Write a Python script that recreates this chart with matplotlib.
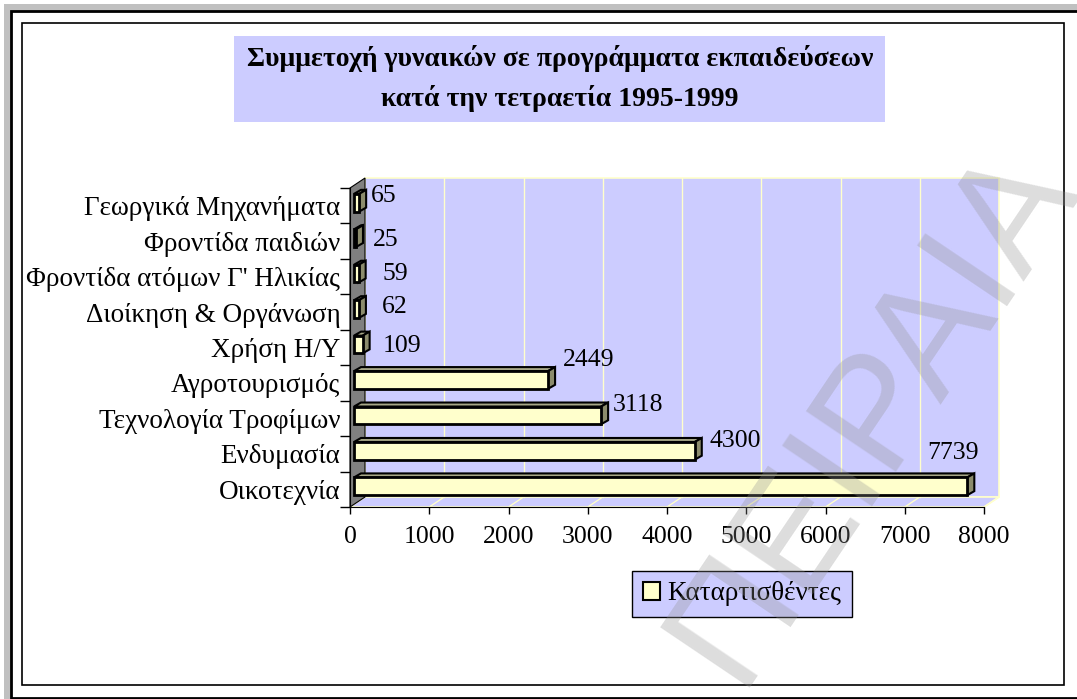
import matplotlib
matplotlib.use('Agg')
import numpy as np
import matplotlib.pyplot as plt
from matplotlib.patches import Rectangle, Polygon, Patch

plt.rcParams['font.family'] = ['Liberation Serif', 'DejaVu Serif']

# data (bottom row first)
categories = ['Οικοτεχνία', 'Ενδυμασία', 'Τεχνολογία Τροφίμων', 'Αγροτουρισμός',
              'Χρήση Η/Υ', 'Διοίκηση & Οργάνωση', "Φροντίδα ατόμων Γ' Ηλικίας",
              'Φροντίδα παιδιών', 'Γεωργικά Μηχανήματα']
values = [7739, 4300, 3118, 2449, 109, 62, 59, 25, 65]
x_ticks = [0, 1000, 2000, 3000, 4000, 5000, 6000, 7000, 8000]
series_name = 'Καταρτισθέντες'
title_lines = ['Συμμετοχή γυναικών σε προγράμματα εκπαιδεύσεων',
               'κατά την τετραετία 1995-1999']
watermark = 'ΠΕΙΡΑΙΑ'

# label nudges in pixels (dx from bar end, dy up from row centre)
label_offsets = [(-36, 36), (19, 13), (16, 13), (19, 23), (24, 2), (27, 5), (28, 3), (21, 1), (16, 10)]

W, H = 1077, 699
LAV = '#CCCCFF'
CREAM = '#FFFFCC'

fig = plt.figure(figsize=(W / 100, H / 100), dpi=100)


def frect(x0, y0, x1, y1, **kw):
    # rectangle in figure pixels (y from top)
    r = Rectangle((x0 / W, 1 - y1 / H), (x1 - x0) / W, (y1 - y0) / H,
                  transform=fig.transFigure, **kw)
    fig.patches.append(r)
    return r


# outer frame
frect(4, 4, 1090, 705, facecolor='#C0C0C0', edgecolor='none', zorder=-3)
frect(11, 11, 1090, 698, facecolor='white', edgecolor='black', lw=2, zorder=-2)
frect(22, 23, 1064, 685, facecolor='none', edgecolor='black', lw=1.2, zorder=-1)

# title
frect(234, 36, 885, 122, facecolor=LAV, edgecolor='none', zorder=-1)
fig.text(560 / W, 1 - 58 / H, title_lines[0], ha='center', va='center',
         fontsize=20, fontweight='bold', zorder=2)
fig.text(560 / W, 1 - 98 / H, title_lines[1], ha='center', va='center',
         fontsize=20, fontweight='bold', zorder=2)

# axes = front plane of the 3d box
x0, x1, ytop, ybot = 350, 984, 188, 507
ax = fig.add_axes([x0 / W, 1 - ybot / H, (x1 - x0) / W, (ybot - ytop) / H])
ax.set_zorder(1)
ax.patch.set_visible(False)
ax.set_xlim(x_ticks[0], x_ticks[-1])
ax.set_ylim(-0.5, len(categories) - 0.5)
ylo, yhi = ax.get_ylim()

sx = (x_ticks[-1] - x_ticks[0]) / (x1 - x0)   # data units per px
sy = (yhi - ylo) / (ybot - ytop)

DX, DY = 15 * sx, 10 * sy          # wall depth
xmax = x_ticks[-1]

# back wall, floor, side wall
ax.add_patch(Rectangle((DX, ylo + DY), xmax, yhi - ylo, facecolor=LAV,
                       edgecolor=CREAM, lw=1.2, zorder=0, clip_on=False))
ax.add_patch(Polygon([(0, ylo), (xmax, ylo), (xmax + DX, ylo + DY), (DX, ylo + DY)],
                     closed=True, facecolor=LAV, edgecolor=CREAM, lw=1.2, zorder=0.5, clip_on=False))
ax.add_patch(Polygon([(0, ylo), (0, yhi), (DX, yhi + DY), (DX, ylo + DY)],
                     closed=True, facecolor='#808080', edgecolor='black', lw=0.8, zorder=1, clip_on=False))
for t in x_ticks[1:-1]:
    ax.plot([t + DX, t + DX], [ylo + DY, yhi + DY], color=CREAM, lw=1, zorder=0.6, clip_on=False)
for t in x_ticks[1:]:
    ax.plot([t, t + DX], [ylo, ylo + DY], color=CREAM, lw=1, zorder=0.6, clip_on=False)

# bars
ypos = np.arange(len(categories))
BX, BY = 4 * sx, 3 * sy
BDX, BDY = 7 * sx, 4 * sy
hh = 0.25
ax.barh(ypos + BY, values, height=2 * hh, left=BX, color=CREAM,
        edgecolor='black', lw=2, zorder=3, clip_on=False)
for y, v in zip(ypos, values):
    yb, yt = y + BY - hh, y + BY + hh
    xe = BX + v
    ax.add_patch(Polygon([(BX, yt), (xe, yt), (xe + BDX, yt + BDY), (BX + BDX, yt + BDY)],
                         closed=True, facecolor='#A8A888', edgecolor='black', lw=1.5,
                         zorder=2.9, clip_on=False))
    ax.add_patch(Polygon([(xe, yb), (xe + BDX, yb + BDY), (xe + BDX, yt + BDY), (xe, yt)],
                         closed=True, facecolor='#8C8C6C', edgecolor='black', lw=1.5,
                         zorder=2.9, clip_on=False))

# value labels
for y, v, (odx, ody) in zip(ypos, values, label_offsets):
    ax.annotate(str(v), xy=(v, y), xytext=(odx, ody), textcoords='offset pixels',
                ha='left', va='center', fontsize=18.5, zorder=5, annotation_clip=False)

# axes styling
for s in ['top', 'right']:
    ax.spines[s].set_visible(False)
ax.spines['left'].set_color('black')
ax.spines['bottom'].set_color('black')
ax.spines['left'].set_zorder(4)
ax.set_xticks(x_ticks)
ax.set_xticklabels([str(t) for t in x_ticks])
ax.set_yticks(ypos)
ax.set_yticklabels(categories)
ax.set_yticks(np.arange(-0.5, len(categories)), minor=True)
ax.tick_params(axis='x', direction='out', length=5, width=1, pad=9, labelsize=18.5)
ax.tick_params(axis='y', which='major', length=0, pad=7, labelsize=19.5)
ax.tick_params(axis='y', which='minor', direction='out', length=7, width=1)

# legend
leg = fig.legend(handles=[Patch(facecolor=CREAM, edgecolor='black', lw=1.5)],
                 labels=[series_name], loc='center',
                 bbox_to_anchor=(742 / W, 1 - 594 / H), frameon=True, fancybox=False,
                 facecolor=LAV, edgecolor='black', framealpha=1, fontsize=19.5,
                 handlelength=0.63, handleheight=0.63, handletextpad=0.26, borderpad=0.4)
leg.get_frame().set_linewidth(1)
leg.set_zorder(3)

# watermark, anchored at the left end of its baseline
fig.text(737 / W, 1 - 688 / H, watermark, ha='left', va='baseline', rotation=56,
         rotation_mode='anchor', fontsize=113, family='Liberation Sans',
         color='#909090', alpha=0.3, zorder=20)

fig.savefig('out.png', dpi=100)
